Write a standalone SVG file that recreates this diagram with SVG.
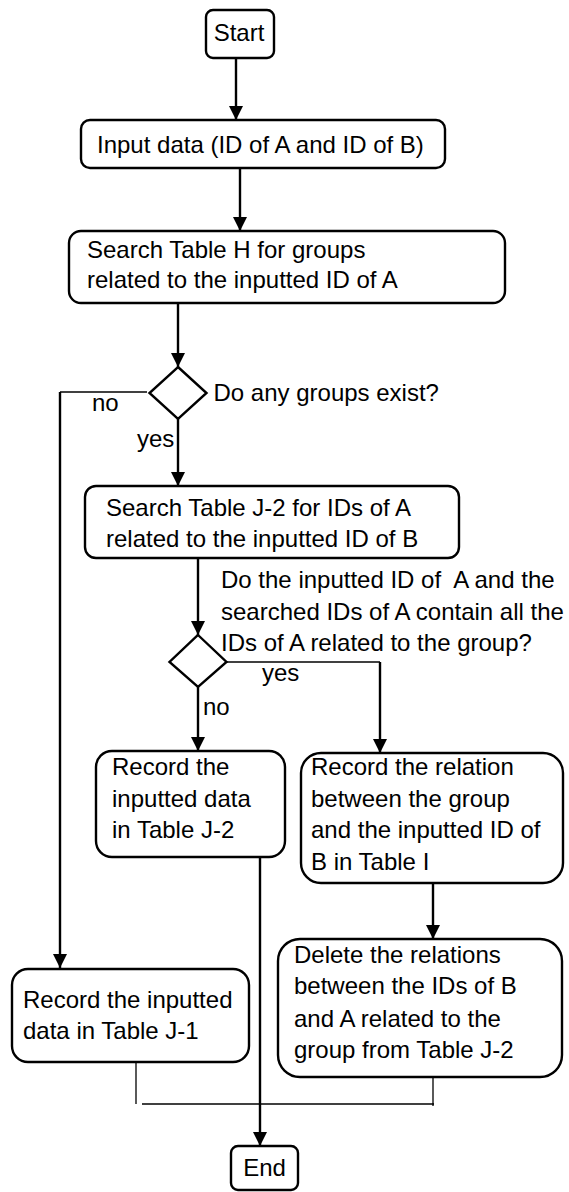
<svg xmlns="http://www.w3.org/2000/svg" width="569" height="1192" viewBox="0 0 569 1192">
<style>
  .box { fill: #ffffff; stroke: #000000; stroke-width: 2.4; }
  .t { font-family: "Liberation Sans", Arial, sans-serif; font-size: 24px; fill: #000000; }
  .c { fill: none; stroke: #000000; stroke-width: 2.4; }
  .thin { fill: none; stroke: #000000; stroke-width: 1.3; }
</style>
<defs>
  <marker id="arr" markerUnits="userSpaceOnUse" markerWidth="14" markerHeight="14" refX="14" refY="7" orient="auto">
    <path d="M0,0 L14,7 L0,14 z" fill="#000000"/>
  </marker>
</defs>
<rect width="569" height="1192" fill="#ffffff"/>

<g id="connectors">
  <path class="c" d="M236,58 V120" marker-end="url(#arr)"/>
  <path class="c" d="M240,168 V231" marker-end="url(#arr)"/>
  <path class="c" d="M178,303 V367" marker-end="url(#arr)"/>
  <path class="thin" d="M147,392 H60"/>
  <path class="c" d="M60,392 V968" marker-end="url(#arr)"/>
  <path class="c" d="M178,419 V486" marker-end="url(#arr)"/>
  <path class="c" d="M198,558 V635" marker-end="url(#arr)"/>
  <path class="thin" d="M227,662 H380"/>
  <path class="c" d="M380,662 V753" marker-end="url(#arr)"/>
  <path class="c" d="M198,687 V751" marker-end="url(#arr)"/>
  <path class="c" d="M260,857 V1146" marker-end="url(#arr)"/>
  <path class="c" d="M433,883 V939" marker-end="url(#arr)"/>
  <path class="thin" d="M136,1058 V1104"/>
  <path class="thin" d="M142,1104 H434"/>
  <path class="thin" d="M433,1077 V1106"/>
</g>

<g id="start">
  <rect class="box" x="206" y="10" width="68" height="48" rx="7"/>
  <text class="t" x="239" y="41" text-anchor="middle">Start</text>
</g>

<g id="input">
  <rect class="box" x="81" y="120" width="364" height="48" rx="9"/>
  <text class="t" x="97" y="153">Input data (ID of A and ID of B)</text>
</g>

<g id="searchH">
  <rect class="box" x="69" y="231" width="436" height="72" rx="12"/>
  <text class="t" x="87" y="258">Search Table H for groups</text>
  <text class="t" x="87" y="288">related to the inputted ID of A</text>
</g>

<g id="decision1">
  <polygon class="box" points="178,367 206.5,393 178,419 149.5,393"/>
  <text class="t" x="213.5" y="401">Do any groups exist?</text>
  <text class="t" x="92" y="411">no</text>
  <text class="t" x="137" y="447">yes</text>
</g>

<g id="searchJ2">
  <rect class="box" x="85" y="486" width="374" height="72" rx="11"/>
  <text class="t" x="106" y="516">Search Table J-2 for IDs of A</text>
  <text class="t" x="106" y="547">related to the inputted ID of B</text>
</g>

<g id="decision2">
  <polygon class="box" points="198,635 226.5,662 198,687 169.5,662"/>
  <text class="t" x="221" y="588" xml:space="preserve">Do the inputted ID of  A and the</text>
  <text class="t" x="221" y="620">searched IDs of A contain all the</text>
  <text class="t" x="221" y="651">IDs of A related to the group?</text>
  <text class="t" x="262" y="681">yes</text>
  <text class="t" x="203" y="715">no</text>
</g>

<g id="recordJ2">
  <rect class="box" x="96" y="751" width="189" height="106" rx="16"/>
  <text class="t" x="112" y="775">Record the</text>
  <text class="t" x="112" y="807">inputted data</text>
  <text class="t" x="112" y="838">in Table J-2</text>
</g>

<g id="recordRelation">
  <rect class="box" x="301" y="753" width="262" height="130" rx="20"/>
  <text class="t" x="311" y="775">Record the relation</text>
  <text class="t" x="311" y="807">between the group</text>
  <text class="t" x="311" y="838">and the inputted ID of</text>
  <text class="t" x="311" y="870">B in Table I</text>
</g>

<g id="deleteRelations">
  <rect class="box" x="278" y="939" width="284" height="138" rx="22"/>
  <text class="t" x="294" y="963">Delete the relations</text>
  <text class="t" x="294" y="994">between the IDs of B</text>
  <text class="t" x="294" y="1027">and A related to the</text>
  <text class="t" x="294" y="1058">group from Table J-2</text>
</g>

<g id="recordJ1">
  <rect class="box" x="12" y="969" width="237" height="93" rx="16"/>
  <text class="t" x="23" y="1008">Record the inputted</text>
  <text class="t" x="23" y="1039">data in Table J-1</text>
</g>

<g id="end">
  <rect class="box" x="231" y="1146" width="67" height="44" rx="7"/>
  <text class="t" x="264.5" y="1176" text-anchor="middle">End</text>
</g>
</svg>
